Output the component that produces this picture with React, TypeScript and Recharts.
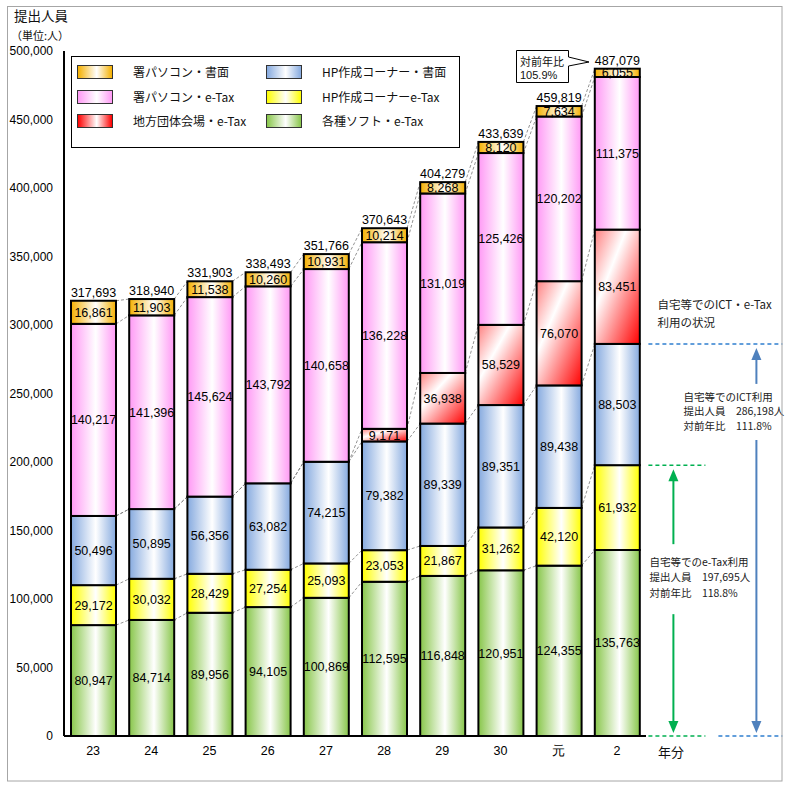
import React from 'react';
import { BarChart, Bar, XAxis, YAxis, LabelList } from 'recharts';

// ---------- data ----------
const categories = ['23', '24', '25', '26', '27', '28', '29', '30', '元', '2'];
const softEtax = [80947, 84714, 89956, 94105, 100869, 112595, 116848, 120951, 124355, 135763];
const hpEtax = [29172, 30032, 28429, 27254, 25093, 23053, 21867, 31262, 42120, 61932];
const hpPaper = [50496, 50895, 56356, 63082, 74215, 79382, 89339, 89351, 89438, 88503];
const localEtax = [0, 0, 0, 0, 0, 9171, 36938, 58529, 76070, 83451];
const officePcEtax = [140217, 141396, 145624, 143792, 140658, 136228, 131019, 125426, 120202, 111375];
const officePcPaper = [16861, 11903, 11538, 10260, 10931, 10214, 8268, 8120, 7634, 6055];
const yTicks = [0, 50000, 100000, 150000, 200000, 250000, 300000, 350000, 400000, 450000, 500000];

type Series = { key: string; name: string; values: number[]; color: string; diag?: boolean };
const SERIES: Series[] = [
  { key: 'soft', name: '各種ソフト・e-Tax', values: softEtax, color: '#88C64A' },
  { key: 'hpEtax', name: 'HP作成コーナーe-Tax', values: hpEtax, color: '#FFFF00' },
  { key: 'hpPaper', name: 'HP作成コーナー・書面', values: hpPaper, color: '#86AADF' },
  { key: 'local', name: '地方団体会場・e-Tax', values: localEtax, color: '#FF0000', diag: true },
  { key: 'pcEtax', name: '署パソコン・e-Tax', values: officePcEtax, color: '#FF99F5' },
  { key: 'pcPaper', name: '署パソコン・書面', values: officePcPaper, color: '#F5B000' },
];
const legendCol1 = ['pcPaper', 'pcEtax', 'local'];
const legendCol2 = ['hpPaper', 'hpEtax', 'soft'];

const data = categories.map((c, i) => {
  const row: any = { cat: c };
  let t = 0;
  SERIES.forEach((s) => {
    row[s.key] = s.values[i];
    t += s.values[i];
  });
  row.total = t;
  return row;
});

// ---------- layout ----------
const W = 791;
const H = 792;
const MARGIN = { top: 51, right: 145, bottom: 36, left: 0 };
const YAXIS_W = 64;
const XAXIS_H = 20;
const PLOT_W = W - MARGIN.left - MARGIN.right - YAXIS_W;
const BAND = PLOT_W / categories.length;
const JP = '"Noto Sans CJK JP", "Noto Sans", sans-serif';
const NUM = '"Liberation Sans", Arial, sans-serif';

const fmt = (v: number) => v.toLocaleString('en-US');
const cumAt = (i: number, j: number) => {
  let c = 0;
  for (let k = 0; k <= j; k++) c += SERIES[k].values[i];
  return c;
};

const last = categories.length - 1;
const ictNow = cumAt(last, 2);
const ictPrev = cumAt(last - 1, 2);
const taxNow = cumAt(last, 1);
const taxPrev = cumAt(last - 1, 1);
const totNow = data[last].total;
const totPrev = data[last - 1].total;
const pct = (a: number, b: number) => ((a / b) * 100).toFixed(1) + '%';

const BLUE_D = '#2F7FCF';
const BLUE_A = '#4F81BD';
const GREEN = '#00B050';

function Annotations({ R, zeroY, ppv }: { R: number; zeroY: number; ppv: number }) {
  const yI = zeroY - ictNow * ppv;
  const yT = zeroY - taxNow * ppv;
  const bx = R + 110;
  const gx = R + 27;
  return (
    <g fontFamily={JP}>
      <text x={R + 11} y={yI - 35} fontSize={11.5} fill="#222">自宅等でのICT・e-Tax</text>
      <text x={R + 11} y={yI - 17} fontSize={11.5} fill="#222">利用の状況</text>
      <line x1={R + 2} y1={yI} x2={R + 136} y2={yI} stroke={BLUE_D} strokeWidth={1.5} strokeDasharray="4 3" />
      <polygon points={`${bx},${yI + 4} ${bx - 5},${yI + 16} ${bx + 5},${yI + 16}`} fill={BLUE_A} />
      <line x1={bx} y1={yI + 15} x2={bx} y2={yI + 40} stroke={BLUE_A} strokeWidth={2} />
      <text x={R + 37} y={yI + 57} fontSize={10.5} fill="#222">自宅等でのICT利用</text>
      <text x={R + 37} y={yI + 71} fontSize={10.5} fill="#222">{'提出人員　' + fmt(ictNow) + '人'}</text>
      <text x={R + 37} y={yI + 86} fontSize={10.5} fill="#222">{'対前年比　' + pct(ictNow, ictPrev)}</text>
      <line x1={bx} y1={yI + 96} x2={bx} y2={zeroY - 14} stroke={BLUE_A} strokeWidth={2} />
      <polygon points={`${bx},${zeroY - 3} ${bx - 5},${zeroY - 15} ${bx + 5},${zeroY - 15}`} fill={BLUE_A} />
      <line x1={R + 72} y1={zeroY} x2={R + 136} y2={zeroY} stroke={BLUE_D} strokeWidth={1.5} strokeDasharray="4 3" />
      <line x1={R + 2} y1={yT} x2={R + 59} y2={yT} stroke={GREEN} strokeWidth={1.5} strokeDasharray="4 3" />
      <polygon points={`${gx},${yT + 4} ${gx - 5},${yT + 16} ${gx + 5},${yT + 16}`} fill={GREEN} />
      <line x1={gx} y1={yT + 15} x2={gx} y2={yT + 79} stroke={GREEN} strokeWidth={2} />
      <text x={R + 3} y={yT + 101} fontSize={10.5} fill="#222">自宅等でのe-Tax利用</text>
      <text x={R + 3} y={yT + 116} fontSize={10.5} fill="#222">{'提出人員　' + fmt(taxNow) + '人'}</text>
      <text x={R + 3} y={yT + 132} fontSize={10.5} fill="#222">{'対前年比　' + pct(taxNow, taxPrev)}</text>
      <line x1={gx} y1={yT + 149} x2={gx} y2={zeroY - 14} stroke={GREEN} strokeWidth={2} />
      <polygon points={`${gx},${zeroY - 3} ${gx - 5},${zeroY - 15} ${gx + 5},${zeroY - 15}`} fill={GREEN} />
      <line x1={R + 2} y1={zeroY} x2={R + 59} y2={zeroY} stroke={GREEN} strokeWidth={1.5} strokeDasharray="4 3" />
    </g>
  );
}

const makeShape = (k: number) => (p: any) => {
  const { x, y, width, height, index } = p;
  const s = SERIES[k];
  const parts: any[] = [];
  if (k === 0) {
    const ppv = height / s.values[index];
    const zeroY = y + height;
    if (index < categories.length - 1) {
      for (let j = 0; j < SERIES.length; j++) {
        parts.push(
          <line
            key={'c' + j}
            x1={x + width}
            y1={zeroY - cumAt(index, j) * ppv}
            x2={x + BAND}
            y2={zeroY - cumAt(index + 1, j) * ppv}
            stroke="#777"
            strokeWidth={0.8}
            strokeDasharray="3 2"
          />
        );
      }
    } else {
      parts.push(<Annotations key="ann" R={x + width / 2 + BAND / 2} zeroY={zeroY} ppv={ppv} />);
    }
  }
  if (height > 0) {
    parts.push(
      <rect key="r" x={x} y={y} width={width} height={height} fill={`url(#g-${s.key})`} stroke="#000" strokeWidth={2} />
    );
  }
  return <g>{parts}</g>;
};

const swatchBg = (s: Series) => `linear-gradient(to right, ${s.color}, #fff 55%, ${s.color})`;

function LegendBox() {
  const byKey = (k: string) => SERIES.find((s) => s.key === k)!;
  const rows = [72, 97, 121];
  const item = (k: string, i: number, sx: number, tx: number) => {
    const s = byKey(k);
    return (
      <React.Fragment key={k}>
        <div
          style={{
            position: 'absolute',
            left: sx,
            top: rows[i] - 7,
            width: 34,
            height: 12,
            border: '1px solid #333',
            background: swatchBg(s),
          }}
        />
        <div
          style={{
            position: 'absolute',
            left: tx,
            top: rows[i] - 9,
            fontSize: 12,
            lineHeight: '18px',
            fontFamily: JP,
            whiteSpace: 'nowrap',
            color: '#111',
          }}
        >
          {s.name}
        </div>
      </React.Fragment>
    );
  };
  return (
    <>
      <div
        style={{
          position: 'absolute',
          left: 71,
          top: 56,
          width: 387,
          height: 90,
          border: '1px solid #000',
          background: '#fff',
        }}
      />
      {legendCol1.map((k, i) => item(k, i, 77, 133))}
      {legendCol2.map((k, i) => item(k, i, 266, 322))}
    </>
  );
}

export default function App() {
  return (
    <div style={{ position: 'absolute', left: 0, top: 0, width: W, height: H, background: '#fff' }}>
      <BarChart width={W} height={H} data={data} margin={MARGIN} barSize={45}>
        <defs>
          {SERIES.map((s) =>
            s.diag ? (
              <linearGradient key={s.key} id={`g-${s.key}`} x1="0" y1="0" x2="1" y2="1">
                <stop offset="0" stopColor="#FF8080" />
                <stop offset="0.35" stopColor="#FFFFFF" />
                <stop offset="1" stopColor="#FF0000" />
              </linearGradient>
            ) : (
              <linearGradient key={s.key} id={`g-${s.key}`} x1="0" y1="0" x2="1" y2="0">
                <stop offset="0" stopColor={s.color} />
                <stop offset="0.55" stopColor="#FFFFFF" />
                <stop offset="1" stopColor={s.color} />
              </linearGradient>
            )
          )}
        </defs>
        <XAxis
          dataKey="cat"
          height={XAXIS_H}
          interval={0}
          tickLine={false}
          tickSize={0}
          tickMargin={10}
          axisLine={{ stroke: '#000', strokeWidth: 2 }}
          tick={{ fill: '#000', fontSize: 12.5, fontFamily: NUM }}
        />
        <XAxis
          xAxisId="top"
          orientation="top"
          dataKey="cat"
          height={0}
          tick={false}
          tickLine={false}
          axisLine={{ stroke: '#000', strokeWidth: 2 }}
        />
        <YAxis
          width={YAXIS_W}
          domain={[0, 500000]}
          ticks={yTicks}
          interval={0}
          tickFormatter={fmt}
          tickLine={false}
          tickSize={0}
          tickMargin={11}
          axisLine={{ stroke: '#000', strokeWidth: 2 }}
          tick={{ fill: '#000', fontSize: 12, fontFamily: NUM }}
        />
        <YAxis
          yAxisId="right"
          orientation="right"
          width={0}
          domain={[0, 500000]}
          tick={false}
          tickLine={false}
          axisLine={{ stroke: '#000', strokeWidth: 2 }}
        />
        {SERIES.map((s, k) => (
          <Bar key={s.key} dataKey={s.key} name={s.name} stackId="a" isAnimationActive={false} shape={makeShape(k)}>
            <LabelList
              dataKey={s.key}
              position="center"
              formatter={(v: any) => (Number(v) > 0 ? fmt(Number(v)) : '')}
              style={{ fill: '#000', fontSize: 12.5, fontFamily: NUM }}
            />
            {k === SERIES.length - 1 ? (
              <LabelList
                dataKey="total"
                position="top"
                offset={4}
                formatter={(v: any) => fmt(Number(v))}
                style={{ fill: '#000', fontSize: 12.5, fontFamily: NUM }}
              />
            ) : null}
          </Bar>
        ))}
      </BarChart>
      <LegendBox />
      <svg
        width={W}
        height={H}
        style={{ position: 'absolute', left: 0, top: 0, pointerEvents: 'none' }}
      >
        <rect x={7.5} y={6.5} width={774.5} height={774.5} fill="none" stroke="#A6A6A6" strokeWidth={1} />
        <text x={14} y={21} fontSize={13.5} fontFamily={JP} fill="#111">提出人員</text>
        <text x={11} y={40} fontSize={11} fontFamily={JP} fill="#111">（単位:人）</text>
        <text x={658} y={757} fontSize={13} fontFamily={JP} fill="#111">年分</text>
        <path d="M516.5,50.5 H568.5 V57 L589,62 L568.5,66 V82.5 H516.5 Z" fill="#fff" stroke="#000" strokeWidth={1} />
        <text x={520} y={66} fontSize={11} fontFamily={JP} fill="#111">対前年比</text>
        <text x={520} y={79} fontSize={11} fontFamily={NUM} fill="#111">{pct(totNow, totPrev)}</text>
      </svg>
    </div>
  );
}
